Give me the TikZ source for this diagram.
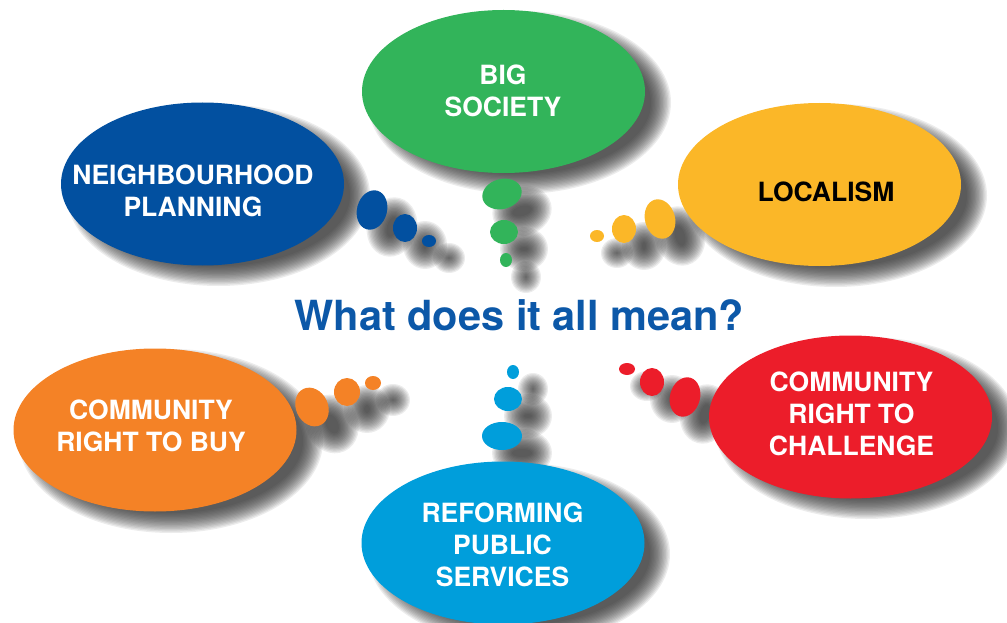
\documentclass[tikz,border=0pt]{standalone}
\usepackage{fontspec}
\setmainfont{TeX Gyre Heros}
\usetikzlibrary{shapes.geometric}
\definecolor{cgreen}{RGB}{50,180,90}
\definecolor{cblue}{RGB}{2,80,160}
\definecolor{cyellow}{RGB}{251,183,40}
\definecolor{corange}{RGB}{244,130,38}
\definecolor{cred}{RGB}{236,29,42}
\definecolor{ccyan}{RGB}{0,158,219}
\definecolor{ctitle}{RGB}{12,88,168}
\definecolor{shadowcol}{RGB}{40,40,40}
\newcommand\softshadow[8]{% x y rx ry rot blur dx dy
  \pgfmathsetmacro\shx{#1+#7}%
  \pgfmathsetmacro\shy{#2+#8}%
  \foreach \k in {0,...,15}{%
    \pgfmathsetmacro\srx{max(#3+#6*(1-\k/7.5),0.3)}%
    \pgfmathsetmacro\sry{max(#4+#6*(1-\k/7.5),0.3)}%
    \fill[shadowcol,opacity=0.085,rotate around={#5:(\shx,\shy)}] (\shx,\shy) ellipse [x radius=\srx, y radius=\sry];
  }}
\newcommand\bubble[6]{% x y rx ry rot colour
  \fill[#6,rotate around={#5:(#1,#2)}] (#1,#2) ellipse [x radius=#3, y radius=#4];}
\begin{document}
\begin{tikzpicture}[x=1pt,y=-1pt,
  mainell/.style={ellipse, draw=none, inner sep=0pt, minimum width=283pt, minimum height=163pt},
  lbl/.style={text=white, font=\bfseries\fontsize{26.5}{32}\selectfont, align=center, inner sep=0pt},
  ttl/.style={text=ctitle, font=\bfseries\fontsize{41.5}{48}\selectfont, inner sep=0pt}]
\useasboundingbox (0,0) rectangle (1007,623);
\clip (0,0) rectangle (1007,623);
% ---- shadows of the main ellipses
\softshadow{503.5}{91.5}{141.5}{81.5}{0}{10}{16}{11}
\softshadow{202.5}{184}{141.5}{81}{0}{10}{16}{11}
\softshadow{819.5}{184.5}{141.5}{81.5}{0}{10}{16}{11}
\softshadow{155}{430}{142}{82}{0}{10}{16}{11}
\softshadow{850.5}{417}{141.5}{81}{0}{10}{16}{11}
\softshadow{503}{543}{141}{81}{0}{10}{16}{11}
% ---- shadows of the small bubbles
\softshadow{502}{194}{20}{15}{15}{10}{20}{17}
\softshadow{504}{232}{14}{12}{0}{10}{20}{17}
\softshadow{506}{260}{6}{7}{0}{9}{20}{17}
\softshadow{372}{210}{15}{20}{-15}{10}{20}{17}
\softshadow{405}{228}{12}{14}{0}{10}{20}{17}
\softshadow{429}{241}{7}{6}{0}{9}{20}{17}
\softshadow{660}{219}{15}{20}{15}{10}{20}{17}
\softshadow{624}{229}{12}{14}{0}{10}{20}{17}
\softshadow{597}{236}{7}{6}{0}{9}{20}{17}
\softshadow{312}{407}{16}{20}{25}{10}{20}{17}
\softshadow{347}{392}{13}{14}{0}{10}{20}{17}
\softshadow{373}{383}{8}{7}{0}{9}{20}{17}
\softshadow{685}{397}{15}{20}{-15}{10}{20}{17}
\softshadow{652}{382}{12}{14}{0}{10}{20}{17}
\softshadow{627}{369}{8}{6}{0}{9}{20}{17}
\softshadow{502}{436}{20}{14}{0}{10}{20}{17}
\softshadow{508}{399}{14}{12}{0}{10}{20}{17}
\softshadow{513}{372}{6}{7}{0}{9}{20}{17}
% ---- main ellipses
\node[mainell, fill=cgreen]  (big)   at (503.5,91.5) {};
\node[mainell, fill=cblue]   (neigh) at (202.5,184) {};
\node[mainell, fill=cyellow] (local) at (819.5,184.5) {};
\node[mainell, fill=corange] (buy)   at (155,430) {};
\node[mainell, fill=cred]    (chal)  at (850.5,417) {};
\node[mainell, fill=ccyan]   (reform) at (503,543) {};
% ---- small bubbles
\bubble{502}{194}{20}{15}{15}{cgreen}
\bubble{504}{232}{14}{12}{0}{cgreen}
\bubble{506}{260}{6}{7}{0}{cgreen}
\bubble{372}{210}{15}{20}{-15}{cblue}
\bubble{405}{228}{12}{14}{0}{cblue}
\bubble{429}{241}{7}{6}{0}{cblue}
\bubble{660}{219}{15}{20}{15}{cyellow}
\bubble{624}{229}{12}{14}{0}{cyellow}
\bubble{597}{236}{7}{6}{0}{cyellow}
\bubble{312}{407}{16}{20}{25}{corange}
\bubble{347}{392}{13}{14}{0}{corange}
\bubble{373}{383}{8}{7}{0}{corange}
\bubble{685}{397}{15}{20}{-15}{cred}
\bubble{652}{382}{12}{14}{0}{cred}
\bubble{627}{369}{8}{6}{0}{cred}
\bubble{502}{436}{20}{14}{0}{ccyan}
\bubble{508}{399}{14}{12}{0}{ccyan}
\bubble{513}{372}{6}{7}{0}{ccyan}
% ---- texts
\node[lbl] (tbig)    at (503,91)    {BIG\\SOCIETY};
\node[lbl] (tneigh)  at (193,191)   {NEIGHBOURHOOD\\PLANNING};
\node[lbl, text=black] (tlocal) at (826,192) {LOCALISM};
\node[lbl] (tbuy)    at (151,426)   {COMMUNITY\\RIGHT TO BUY};
\node[lbl] (tchal)   at (851.5,413.5) {COMMUNITY\\RIGHT TO\\CHALLENGE};
\node[lbl] (treform) at (502.5,545) {REFORMING\\PUBLIC\\SERVICES};
\node[ttl] (title)   at (519.5,315) {What does it all mean?};
\end{tikzpicture}
\end{document}
